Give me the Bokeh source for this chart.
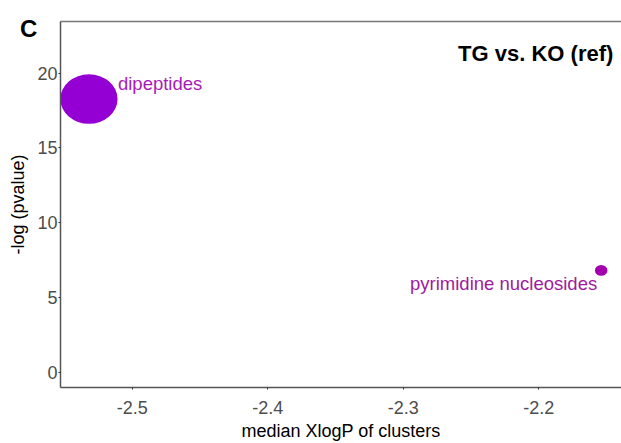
from bokeh.plotting import figure
from bokeh.models import ColumnDataSource, LinearAxis, FixedTicker, Range1d, Label, Div
from bokeh.layouts import column
from bokeh.embed import file_html
from bokeh.resources import INLINE

clusters = ["dipeptides", "pyrimidine nucleosides"]
median_xlogp = [-2.532, -2.154]
neg_log_p = [18.27, 6.82]
cluster_size = [55, 12]
point_colors = ["#9400D3", "#A300B0"]
label_colors = ["#A81CB8", "#A01A9E"]
x_ticks = [-2.5, -2.4, -2.3, -2.2]
x_tick_labels = ["-2.5", "-2.4", "-2.3", "-2.2"]
y_ticks = [0, 5, 10, 15, 20]
panel_letter = "C"
panel_title = "TG vs. KO (ref)"

FONT = "Liberation Sans"
GREY = "#4D4D4D"

p = figure(width=621, height=443, output_backend="svg", toolbar_location=None,
           x_range=Range1d(-2.553, -2.139), y_range=Range1d(-1.0, 23.45),
           min_border_left=60, min_border_right=0, min_border_top=21, min_border_bottom=50)
p.outline_line_color = None
p.grid.visible = False
p.background_fill_color = "white"

src = ColumnDataSource(dict(x=median_xlogp, y=neg_log_p, w=[s * 1.04 for s in cluster_size],
                            h=[s * 0.9 for s in cluster_size], c=point_colors))
p.ellipse(x="x", y="y", width="w", height="h", width_units="screen", height_units="screen",
          fill_color="c", line_color=None, source=src)

# labels
offsets = [(29, 16, "left"), (-4, -13, "right")]
for name, x, y, col, (dx, dy, al) in zip(clusters, median_xlogp, neg_log_p, label_colors, offsets):
    p.add_layout(Label(x=x, y=y, x_offset=dx, y_offset=dy, text=name, text_color=col,
                       text_font=FONT, text_font_size="18.5px", text_align=al,
                       text_baseline="middle"))

for ax in (p.xaxis[0], p.yaxis[0]):
    ax.axis_line_color = "#555555"
    ax.axis_line_width = 1.5
    ax.major_tick_line_color = "#333333"
    ax.major_tick_out = 2
    ax.major_tick_in = 0
    ax.minor_tick_line_color = None
    ax.major_label_text_font = FONT
    ax.major_label_text_font_size = "18px"
    ax.major_label_text_color = GREY
    ax.axis_label_text_font = FONT
    ax.axis_label_text_font_size = "18px"
    ax.axis_label_text_font_style = "normal"
    ax.axis_label_text_color = "black"

p.xaxis[0].ticker = FixedTicker(ticks=x_ticks)
p.xaxis[0].major_label_overrides = {t: l for t, l in zip(x_ticks, x_tick_labels)}
p.yaxis[0].ticker = FixedTicker(ticks=y_ticks)
p.xaxis[0].axis_label = "median XlogP of clusters"
p.yaxis[0].axis_label = "-log (pvalue)"
p.xaxis[0].major_label_standoff = 11
p.xaxis[0].axis_label_standoff = 4
p.yaxis[0].major_label_standoff = 1
p.yaxis[0].axis_label_standoff = 6

top = LinearAxis(ticker=FixedTicker(ticks=[]), major_label_text_font_size="0px",
                 axis_line_color="#777777", axis_line_width=1.5,
                 major_tick_line_color=None, minor_tick_line_color=None)
p.add_layout(top, "above")

p.add_layout(Label(x=-2.145, y=21.3, text=panel_title, text_font=FONT,
                   text_font_size="22px", text_font_style="bold", text_align="right",
                   text_baseline="middle", text_color="black"))

# panel letter sits outside the plot frame, so it is drawn as an overlaid HTML text
letter = Div(
    text=('<span style="position:absolute; left:20px; top:17px; z-index:10; '
          'font-family:\'Liberation Sans\', Arial, sans-serif; font-size:24px; '
          'font-weight:bold; color:black; line-height:1;">' + panel_letter + '</span>'),
    width=0, height=0, margin=0,
    styles={"overflow": "visible", "z-index": "10"},
)

layout = column(letter, p, spacing=0, margin=0)
open("out.html", "w").write(file_html(layout, INLINE))
